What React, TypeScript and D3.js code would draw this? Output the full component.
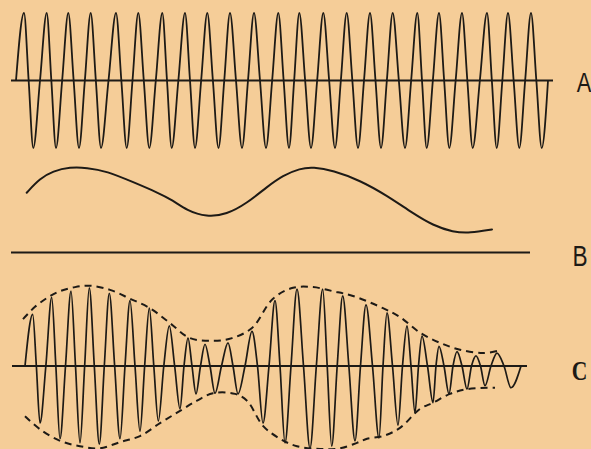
import React from "react";
import * as d3 from "d3";

// ---- Panel A: carrier wave (time of each extremum, signed level) ----
const aTimes = [6, 14, 23.3, 36.7, 46, 58.3, 69, 80.7, 91, 106, 116.7, 128.3, 139.3, 152.3, 161.7, 175, 185, 197.3, 208.5, 220, 232, 244, 256, 268.3, 279, 289.3, 301, 313.3, 325, 336.7, 348, 360, 371, 382.7, 395, 407.3, 416.7, 429, 439.3, 452, 462.7, 477, 486.7, 498, 509.3, 521, 531.7, 538];
const aValues = [0, 1, -1, 1, -1, 1, -1, 1, -1, 1, -1, 1, -1, 1, -1, 1, -1, 1, -1, 1, -1, 1, -1, 1, -1, 1, -1, 1, -1, 1, -1, 1, -1, 1, -1, 1, -1, 1, -1, 1, -1, 1, -1, 1, -1, 1, -1, 0];

// ---- Panel B: modulating signal ----
const bTimes = [16.7, 30, 43, 60, 76.7, 96.7, 123, 146.7, 163, 176.7, 196.7, 216.7, 236.7, 256.7, 273, 290, 303, 323, 350, 376.7, 403, 423, 443, 460, 482];
const bValues = [59.7, 74, 81.3, 85.3, 84.7, 81.3, 70.3, 60.3, 52, 42, 35.3, 38, 49, 65.3, 77, 84, 85.3, 82, 72, 57, 39, 27, 20.3, 19.3, 23];

// ---- Panel C: modulated wave extrema ----
const cTimes = [15, 22.7, 30, 41.7, 50, 61, 70, 79.3, 89.3, 99.3, 110, 120, 130, 139.3, 148.3, 159.3, 170, 178, 186, 195, 205, 218, 228, 242, 253, 265, 275, 287, 300, 312.7, 321.7, 332.7, 345, 356, 369, 377, 388, 397, 405, 412, 423, 429, 439, 447, 457, 466, 475, 487, 501, 511];
const cValues = [0, 0.76, -0.84, 1.01, -1.07, 1.1, -1.13, 1.15, -1.15, 1.07, -1.07, 0.96, -0.96, 0.85, -0.81, 0.59, -0.63, 0.41, -0.41, 0.32, -0.4, 0.34, -0.41, 0.51, -0.84, 0.96, -1.13, 1.13, -1.21, 1.13, -1.18, 1.03, -1.1, 0.9, -1.06, 0.78, -0.87, 0.59, -0.69, 0.44, -0.54, 0.29, -0.41, 0.21, -0.34, 0.15, -0.29, 0.19, -0.32, 0];

// ---- Panel C: envelopes ----
const upperEnvTimes = [13, 25, 38, 50, 65, 80, 100, 120, 140, 160, 180, 203, 222, 242, 263, 283, 303, 323, 343, 373, 390, 410, 430, 450, 473, 487];
const upperEnvValues = [0.69, 0.87, 1.01, 1.1, 1.16, 1.18, 1.12, 0.99, 0.85, 0.63, 0.41, 0.37, 0.41, 0.56, 0.99, 1.15, 1.16, 1.1, 1.03, 0.85, 0.72, 0.49, 0.34, 0.24, 0.19, 0.22];
const lowerEnvTimes = [15, 30, 50, 70, 90, 110, 130, 150, 170, 187, 203, 225, 237, 253, 270, 287, 310, 330, 347, 357, 373, 390, 410, 423, 440, 457, 485];
const lowerEnvValues = [-0.74, -0.93, -1.1, -1.18, -1.21, -1.12, -1.03, -0.84, -0.66, -0.51, -0.4, -0.41, -0.51, -0.88, -1.07, -1.18, -1.22, -1.21, -1.13, -1.07, -1.03, -0.91, -0.63, -0.54, -0.41, -0.34, -0.32];

// axis extents (time units)
const aAxis = [1, 543];
const bAxis = [1, 520];
const cAxis = [2, 517];

const labels = ["A", "B", "C"];

const W = 591;
const H = 449;
const INK = "#1d1a16";
const PAPER = "#F5CD98";

function wavePoints(ts: number[], vs: number[]): [number, number][] {
  const pts: [number, number][] = [];
  for (let i = 0; i < ts.length; i++) {
    pts.push([ts[i], vs[i]]);
    if (i < ts.length - 1 && vs[i] !== 0 && vs[i + 1] !== 0) {
      pts.push([(ts[i] + ts[i + 1]) / 2, 0]);
    }
  }
  return pts;
}

export default function App() {
  const x = d3.scaleLinear().domain([0, 570]).range([10, 580]);
  const yA = d3.scaleLinear().domain([-1, 1]).range([80.5 + 67.5, 80.5 - 67.5]);
  const yB = d3.scaleLinear().domain([0, 100]).range([252.4, 152.4]);
  const yC = d3.scaleLinear().domain([-1, 1]).range([366 + 68, 366 - 68]);

  const waveA = d3
    .line<[number, number]>()
    .x((d) => x(d[0]))
    .y((d) => yA(d[1]))
    .curve(d3.curveMonotoneX)(wavePoints(aTimes, aValues)) || "";

  const waveC = d3
    .line<[number, number]>()
    .x((d) => x(d[0]))
    .y((d) => yC(d[1]))
    .curve(d3.curveMonotoneX)(wavePoints(cTimes, cValues)) || "";

  const curveB = d3
    .line<number>()
    .x((_, i) => x(bTimes[i]))
    .y((d) => yB(d))
    .curve(d3.curveBasis)(bValues) || "";

  const envLine = d3
    .line<number>()
    .y((d) => yC(d))
    .curve(d3.curveCatmullRom.alpha(0.5));
  const upper = envLine.x((_, i) => x(upperEnvTimes[i]))(upperEnvValues) || "";
  const lower = envLine.x((_, i) => x(lowerEnvTimes[i]))(lowerEnvValues) || "";

  return (
    <svg
      width={W}
      height={H}
      viewBox={`0 0 ${W} ${H}`}
      style={{ position: "fixed", left: 0, top: 0, display: "block" }}
    >
      <rect x={0} y={0} width={W} height={H} fill={PAPER} />
      {/* Panel A */}
      <line x1={x(aAxis[0])} x2={x(aAxis[1])} y1={yA(0)} y2={yA(0)} stroke={INK} strokeWidth={1.8} />
      <path d={waveA} fill="none" stroke={INK} strokeWidth={1.8} strokeLinejoin="round" />
      {/* Panel B */}
      <line x1={x(bAxis[0])} x2={x(bAxis[1])} y1={yB(0)} y2={yB(0)} stroke={INK} strokeWidth={2} />
      <path d={curveB} fill="none" stroke={INK} strokeWidth={2} strokeLinecap="round" />
      {/* Panel C */}
      <line x1={x(cAxis[0])} x2={x(cAxis[1])} y1={yC(0)} y2={yC(0)} stroke={INK} strokeWidth={1.8} />
      <path d={waveC} fill="none" stroke={INK} strokeWidth={1.7} strokeLinejoin="round" />
      <path d={upper} fill="none" stroke={INK} strokeWidth={2} strokeDasharray="7 5" />
      <path d={lower} fill="none" stroke={INK} strokeWidth={2} strokeDasharray="7 5" />
      {/* Labels */}
      <text
        transform={`translate(584,92) scale(0.78,1)`}
        textAnchor="middle"
        fontFamily="Liberation Sans, Arial, sans-serif"
        fontSize={28}
        fill={INK}
      >
        {labels[0]}
      </text>
      <text
        transform={`translate(580,266) scale(0.78,1)`}
        textAnchor="middle"
        fontFamily="Liberation Sans, Arial, sans-serif"
        fontSize={29}
        fill={INK}
      >
        {labels[1]}
      </text>
      <text
        transform={`translate(579.5,380) scale(0.8,1)`}
        textAnchor="middle"
        fontFamily="Liberation Serif, serif"
        fontWeight="bold"
        fontSize={27}
        fill={INK}
      >
        {labels[2]}
      </text>
    </svg>
  );
}
